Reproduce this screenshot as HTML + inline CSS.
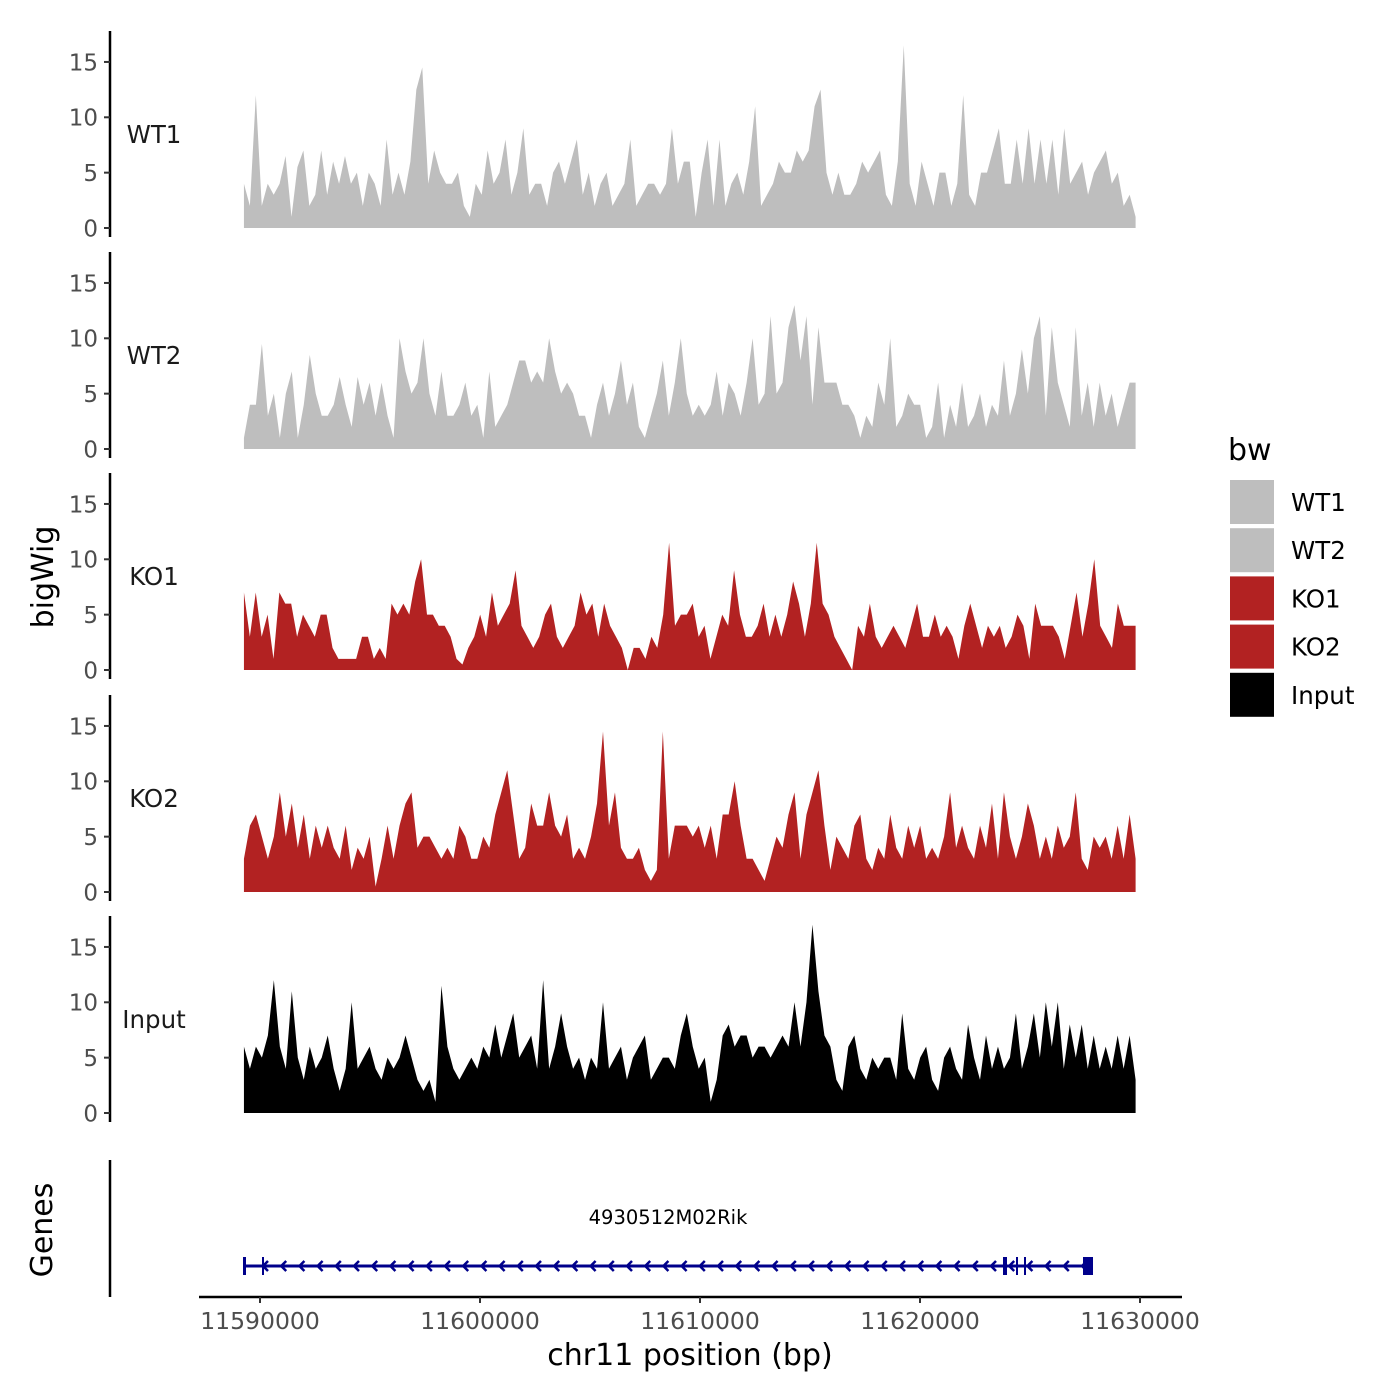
<!DOCTYPE html>
<html><head><meta charset="utf-8"><style>
html,body{margin:0;padding:0;background:#fff;}
svg{display:block;font-family:"DejaVu Sans","Liberation Sans",sans-serif;}
</style></head><body>
<svg id="chart" width="1400" height="1400" viewBox="0 0 1400 1400"></svg>
<script>
const trackNames = ["WT1","WT2","KO1","KO2","Input"];
const trackColors = ["#bebebe","#bebebe","#b22222","#b22222","#000000"];
const wt1 = [4,2,12,2,4,3,4,6.5,1,5.5,7,2,3,7,3,6,4,6.5,4,5,2,5,4,2,8,3,5,3,6,12.5,14.5,4,7,5,4,4,5,2,1,4,3,7,4,5,8,3,5,9,3,4,4,2,5,6,4,6,8,3,5,2,4,5,2,3,4,8,2,3,4,4,3,4,9,4,6,6,1,5,8,2,8,2,4,5,3,6,11,2,3,4,6,5,5,7,6,7,11,12.5,5,3,5,3,3,4,6,5,6,7,3,2,6,16.5,4,2,6,4,2,5,5,2,4,12,3,2,5,5,7,9,4,4,8,4,9,4,8,4,8,3,9,4,5,6,3,5,6,7,4,5,2,3,1];
const wt2 = [1,4,4,9.5,3,5,1,5,7,1,4,8.5,5,3,3,4,6.5,4,2,6.5,4,6,3,6,3,1,10,7,5,6,10,5,3,7,3,3,4,6,3,4,1,7,2,3,4,6,8,8,6,7,6,10,7,5,6,5,3,3,1,4,6,3,5,8,4,6,2,1,3,5,8,3,6,10,5,3,4,3,4,7,3,6,5,3,6,10,4,5,12,5,6,11,13,8,12,4,11,6,6,6,4,4,3,1,3,2,6,4,10,2,3,5,4,4,1,2,6,1,4,2,6,2,3,5,2,4,3,8,3,5,9,5,10,12,3,11,6,4,2,11,3,6,2,6,3,5,2,4,6,6];
const ko1 = [7,3,7,3,5,1,7,6,6,3,5,4,3,5,5,2,1,1,1,1,3,3,1,2,1,6,5,6,5,8,10,5,5,4,4,3,1,0.5,2,3,5,3,7,4,5,6,9,4,3,2,3,5,6,3,2,3,4,7,5,6,3,6,4,3,2,0,2,2,1,3,2,5,11.5,4,5,5,6,3,4,1,3,5,4,9,5,3,3,4,6,3,5,3,5,8,6,3,6,11.5,6,5,3,2,1,0,4,3,6,3,2,3,4,3,2,4,6,3,3,5,3,4,3,1,4,6,4,2,4,3,4,2,3,5,4,1,6,4,4,4,3,1,4,7,3,6,10,4,3,2,6,4,4,4];
const ko2 = [3,6,7,5,3,5,9,5,8,4,7,3,6,4,6,4,3,6,2,4,3,5,0.5,3,6,3,6,8,9,4,5,5,4,3,4,3,6,5,3,3,5,4,7,9,11,7,3,4,8,6,6,9,6,5,7,3,4,3,5,8,14.5,6,9,4,3,3,4,2,1,2,14.5,3,6,6,6,5,6,4,6,3,7,7,10,6,3,3,2,1,3,5,4,7,9,3,7,9,11,6,2,5,4,3,6,7,3,2,4,3,7,4,3,6,4,6,3,4,3,5,9,4,6,4,3,6,4,8,3,9,5,3,5,8,6,3,5,3,6,4,5,9,3,2,5,4,5,3,6,3,7,3];
const inputVals = [6,4,6,5,7,12,6,4,11,5,3,6,4,5,7,4,2,4,10,4,5,6,4,3,5,4,5,7,5,3,2,3,1,11.5,6,4,3,4,5,4,6,5,8,5,7,9,5,6,7,4,12,4,6,9,6,4,5,3,5,4,10,4,5,6,3,5,6,7,3,4,5,5,4,7,9,6,4,5,1,3,7,8,6,7,7,5,6,6,5,6,7,6,10,6,10,17,11,7,6,3,2,6,7,4,3,5,4,5,5,3,9,4,3,5,6,3,2,5,6,4,3,8,5,3,7,4,6,4,5,9,4,6,9,5,10,6,10,4,8,5,8,4,7,4,6,4,7,4,7,3];
const series = [wt1, wt2, ko1, ko2, inputVals];
const yTicks = [0,5,10,15];
const xTicks = [11590000,11600000,11610000,11620000,11630000];
const xTickLabels = ["11590000","11600000","11610000","11620000","11630000"];
const dataStart = 11589270, dataEnd = 11629800;

const NS = "http://www.w3.org/2000/svg";
const svg = document.getElementById("chart");
function mk(tag, attrs, parent){ const e=document.createElementNS(NS,tag); for(const k in attrs) e.setAttribute(k,attrs[k]); (parent||svg).appendChild(e); return e; }
function xScale(bp){ return 260 + (bp-11590000)*0.022; }
const zeros = [228,449,670,892,1113];
const pxPerUnit = 11.07;

for(let t=0;t<5;t++){
  const z = zeros[t];
  const yS = v => z - v*pxPerUnit;
  const g = mk("g",{});
  
  
  const ax = mk("line",{x1:110,y1:z-197,x2:110,y2:z+9,stroke:"#000","stroke-width":2.5},g);
  
  
  yTicks.forEach(v=>{
    const y = yS(v);
    mk("line",{x1:104,y1:y,x2:110,y2:y,stroke:"#333","stroke-width":2},g);
    const tx = mk("text",{x:98,y:y+8.3,"text-anchor":"end","font-size":23,fill:"#4d4d4d"},g);
    tx.textContent = v;
    
    
  });
  const lb = mk("text",{x:154,y:z-85,"text-anchor":"middle","font-size":24.5,fill:"#1a1a1a"},g);
  lb.textContent = trackNames[t];
  
  
  const vals = series[t];
  const n = vals.length;
  let d = "M"+xScale(dataStart)+","+z;
  for(let i=0;i<n;i++){
    const bp = dataStart + (dataEnd-dataStart)*i/(n-1);
    d += " L"+xScale(bp).toFixed(2)+","+yS(vals[i]).toFixed(2);
  }
  d += " L"+xScale(dataEnd)+","+z+" Z";
  const p = mk("path",{d:d,fill:trackColors[t]},g);
  
  
}

const yt = mk("text",{x:0,y:0,transform:"translate(53,577) rotate(-90)","text-anchor":"middle","font-size":30,fill:"#000"});
yt.textContent="bigWig";



const gAx = mk("line",{x1:110,y1:1160,x2:110,y2:1297,stroke:"#000","stroke-width":2.5});


const gt = mk("text",{x:0,y:0,transform:"translate(52,1230) rotate(-90)","text-anchor":"middle","font-size":30,fill:"#000"});
gt.textContent="Genes";


const gene = mk("g",{});


mk("line",{x1:244,y1:1266,x2:1092,y2:1266,stroke:"#00008b","stroke-width":3},gene);
for(let x=263;x<1085;x+=18.2){
  mk("path",{d:`M${x+5},${1261} L${x},${1266} L${x+5},${1271}`,fill:"none",stroke:"#00008b","stroke-width":2.5},gene);
}
[[243,3],[262,2],[1003,4],[1016,2],[1024,2]].forEach(([x,w])=>mk("rect",{x:x,y:1257,width:w,height:18,fill:"#00008b"},gene));
mk("rect",{x:1083,y:1257,width:10,height:18,fill:"#00008b"},gene);
const gl = mk("text",{x:668,y:1224,"text-anchor":"middle","font-size":19.5,fill:"#000"});
gl.textContent="4930512M02Rik";



const xa = mk("line",{x1:199,y1:1297,x2:1182,y2:1297,stroke:"#000","stroke-width":2.5});


xTicks.forEach((v,i)=>{
  const x = xScale(v);
  mk("line",{x1:x,y1:1297,x2:x,y2:1303,stroke:"#333","stroke-width":2});
  const tx = mk("text",{x:x,y:1329,"text-anchor":"middle","font-size":23.5,fill:"#4d4d4d"});
  tx.textContent = xTickLabels[i];
  
  
});
const xt = mk("text",{x:690,y:1365,"text-anchor":"middle","font-size":30,fill:"#000"});
xt.textContent="chr11 position (bp)";



const lg = mk("g",{});


const ltitle = mk("text",{x:1228,y:460,"font-size":30,fill:"#000"},lg);
ltitle.textContent="bw";


trackNames.forEach((nm,i)=>{
  const y = 480 + i*48.2;
  const e = mk("g",{},lg);
  
  
  mk("rect",{x:1230,y:y,width:44,height:44,fill:trackColors[i]},e);
  const tx = mk("text",{x:1291,y:y+31,"font-size":24.5,fill:"#000"},e);
  tx.textContent = nm;
});
</script>
</body></html>
